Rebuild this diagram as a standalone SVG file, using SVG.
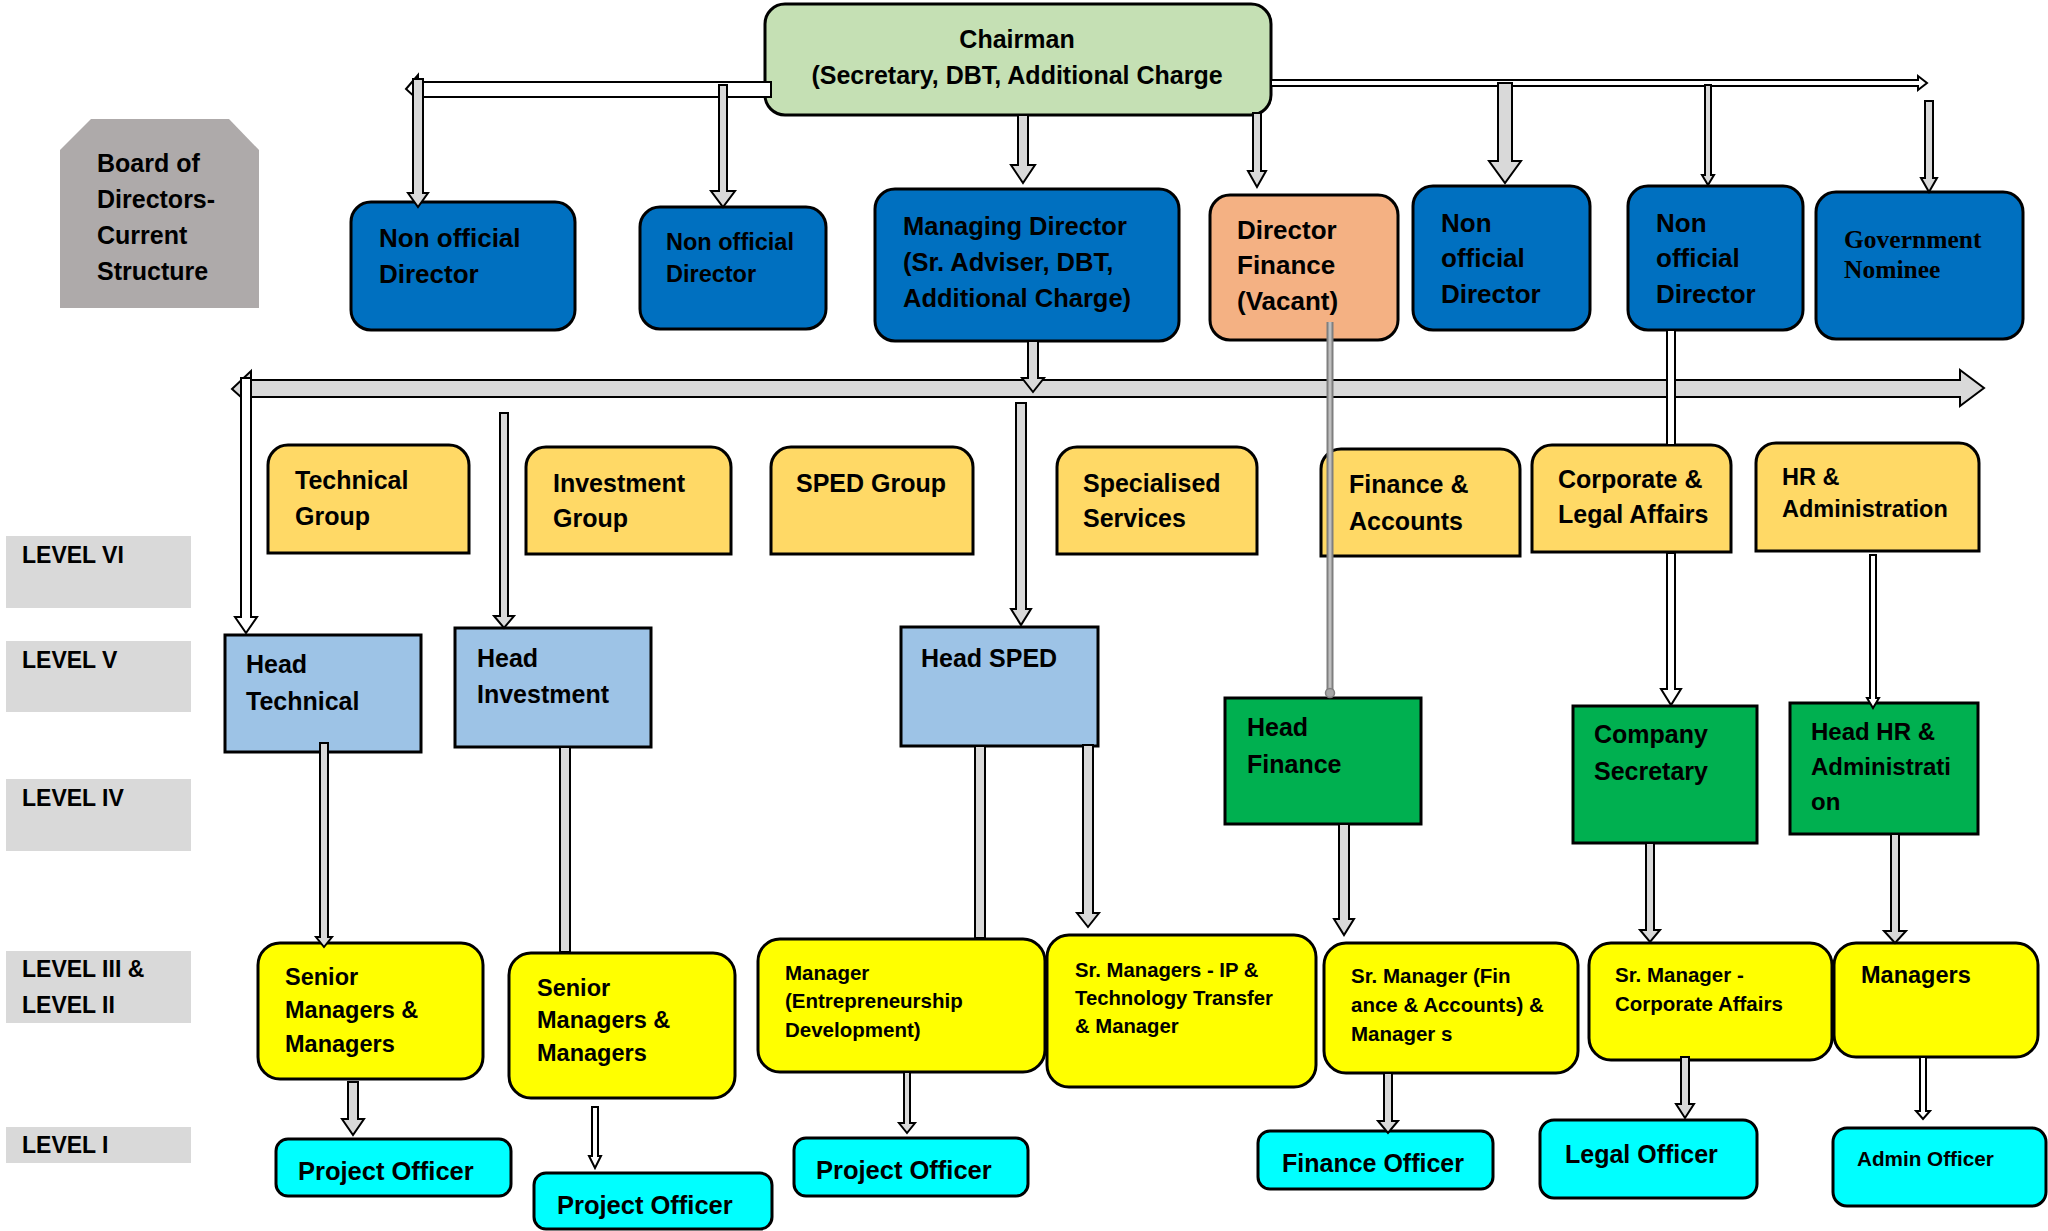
<svg xmlns="http://www.w3.org/2000/svg" width="2048" height="1231" viewBox="0 0 2048 1231">
<style>
text{font-family:"Liberation Sans",Arial,sans-serif;font-weight:bold;fill:#000}
.bx{stroke:#000;stroke-width:3}
.green{fill:#C5E0B4}.blue{fill:#0070C0}.orange{fill:#F4B183}.gold{fill:#FFD966}
.lblue{fill:#9DC3E6}.dgreen{fill:#00B050}.yel{fill:#FFFF00}.cyan{fill:#00FFFF}
.lvl{fill:#D9D9D9}
.ar{fill:#D9D9D9;stroke:#000;stroke-width:2;stroke-linejoin:miter}
.aw{fill:#FFFFFF;stroke:#000;stroke-width:2}
</style>
<rect width="2048" height="1231" fill="#fff"/>

<g id="board"><polygon points="60,150 91,119 229,119 259,150 259,308 60,308" fill="#AEAAAA"/>
<text font-size="25" x="97" y="172">Board of</text><text font-size="25" x="97" y="208">Directors-</text><text font-size="25" x="97" y="244">Current</text><text font-size="25" x="97" y="280">Structure</text></g>

<g id="levels" font-size="23">
<rect class="lvl" x="6" y="536" width="185" height="72"/><text font-size="23" x="22" y="563">LEVEL VI</text>
<rect class="lvl" x="6" y="641" width="185" height="71"/><text font-size="23" x="22" y="668">LEVEL V</text>
<rect class="lvl" x="6" y="779" width="185" height="72"/><text font-size="23" x="22" y="806">LEVEL IV</text>
<rect class="lvl" x="6" y="951" width="185" height="72"/><text font-size="23" x="22" y="977">LEVEL III &amp;</text><text font-size="23" x="22" y="1013">LEVEL II</text>
<rect class="lvl" x="6" y="1127" width="185" height="36"/><text font-size="23" x="22" y="1153">LEVEL I</text>
</g>

<g id="chairman"><rect class="bx green" x="765" y="4" width="506" height="111" rx="20"/>
<text font-size="25" x="1017" y="48" text-anchor="middle">Chairman</text><text font-size="25" x="1017" y="84" text-anchor="middle">(Secretary, DBT, Additional Charge</text></g>

<g id="nod1"><rect class="bx blue" x="351" y="202" width="224" height="128" rx="20"/><text font-size="26" x="379" y="247">Non official</text><text font-size="26" x="379" y="283">Director</text></g>
<g id="nod2"><rect class="bx blue" x="640" y="207" width="186" height="122" rx="20"/><text font-size="23.5" x="666" y="250">Non official</text><text font-size="23.5" x="666" y="282">Director</text></g>
<g id="md"><rect class="bx blue" x="875" y="189" width="304" height="152" rx="20"/><text font-size="25.5" x="903" y="235">Managing Director</text><text font-size="25.5" x="903" y="271">(Sr. Adviser, DBT,</text><text font-size="25.5" x="903" y="307">Additional Charge)</text></g>
<g id="df"><rect class="bx orange" x="1210" y="195" width="188" height="145" rx="20"/><text font-size="26" x="1237" y="239">Director</text><text font-size="26" x="1237" y="274">Finance</text><text font-size="26" x="1237" y="310">(Vacant)</text></g>
<g id="nod3"><rect class="bx blue" x="1413" y="186" width="177" height="144" rx="20"/><text font-size="26" x="1441" y="232">Non</text><text font-size="26" x="1441" y="267">official</text><text font-size="26" x="1441" y="303">Director</text></g>
<g id="nod4"><rect class="bx blue" x="1628" y="186" width="175" height="144" rx="20"/><text font-size="26" x="1656" y="232">Non</text><text font-size="26" x="1656" y="267">official</text><text font-size="26" x="1656" y="303">Director</text></g>
<g id="gov"><rect class="bx blue" x="1816" y="192" width="207" height="147" rx="20"/><text font-size="25.5" x="1844" y="248" style="font-family:'Liberation Serif','Times New Roman',serif">Government</text><text font-size="25.5" x="1844" y="278" style="font-family:'Liberation Serif','Times New Roman',serif">Nominee</text></g>

<g id="grp-tech"><path class="bx gold" d="M268 553V465A20 20 0 0 1 288 445H449A20 20 0 0 1 469 465V553Z"/><text font-size="25" x="295" y="489">Technical</text><text font-size="25" x="295" y="525">Group</text></g>
<g id="grp-inv"><path class="bx gold" d="M526 554V467A20 20 0 0 1 546 447H711A20 20 0 0 1 731 467V554Z"/><text font-size="25" x="553" y="492">Investment</text><text font-size="25" x="553" y="527">Group</text></g>
<g id="grp-sped"><path class="bx gold" d="M771 554V467A20 20 0 0 1 791 447H953A20 20 0 0 1 973 467V554Z"/><text font-size="25" x="796" y="492">SPED Group</text></g>
<g id="grp-spec"><path class="bx gold" d="M1057 554V467A20 20 0 0 1 1077 447H1237A20 20 0 0 1 1257 467V554Z"/><text font-size="25" x="1083" y="492">Specialised</text><text font-size="25" x="1083" y="527">Services</text></g>
<g id="grp-fin"><path class="bx gold" d="M1321 556V469A20 20 0 0 1 1341 449H1500A20 20 0 0 1 1520 469V556Z"/><text font-size="25" x="1349" y="493">Finance &amp;</text><text font-size="25" x="1349" y="530">Accounts</text></g>
<g id="grp-corp"><path class="bx gold" d="M1532 552V465A20 20 0 0 1 1552 445H1711A20 20 0 0 1 1731 465V552Z"/><text font-size="25" x="1558" y="488">Corporate &amp;</text><text font-size="25" x="1558" y="523">Legal Affairs</text></g>
<g id="grp-hr"><path class="bx gold" d="M1756 551V463A20 20 0 0 1 1776 443H1959A20 20 0 0 1 1979 463V551Z"/><text font-size="23.5" x="1782" y="485">HR &amp;</text><text font-size="23.5" x="1782" y="517">Administration</text></g>

<g id="head-tech"><rect class="bx lblue" x="225" y="635" width="196" height="117"/><text font-size="25" x="246" y="673">Head</text><text font-size="25" x="246" y="710">Technical</text></g>
<g id="head-inv"><rect class="bx lblue" x="455" y="628" width="196" height="119"/><text font-size="25" x="477" y="667">Head</text><text font-size="25" x="477" y="703">Investment</text></g>
<g id="head-sped"><rect class="bx lblue" x="901" y="627" width="197" height="119"/><text font-size="25" x="921" y="667">Head SPED</text></g>
<g id="head-fin"><rect class="bx dgreen" x="1225" y="698" width="196" height="126"/><text font-size="25" x="1247" y="736">Head</text><text font-size="25" x="1247" y="773">Finance</text></g>
<g id="co-sec"><rect class="bx dgreen" x="1573" y="706" width="184" height="137"/><text font-size="25" x="1594" y="743">Company</text><text font-size="25" x="1594" y="780">Secretary</text></g>
<g id="head-hr"><rect class="bx dgreen" x="1790" y="703" width="188" height="131"/><text font-size="24" x="1811" y="740">Head HR &amp;</text><text font-size="24" x="1811" y="775">Administrati</text><text font-size="24" x="1811" y="810">on</text></g>

<g id="sm1"><rect class="bx yel" x="258" y="943" width="225" height="136" rx="22"/><text font-size="23.5" x="285" y="985">Senior</text><text font-size="23.5" x="285" y="1018">Managers &amp;</text><text font-size="23.5" x="285" y="1052">Managers</text></g>
<g id="sm2"><rect class="bx yel" x="509" y="953" width="226" height="145" rx="22"/><text font-size="23.5" x="537" y="996">Senior</text><text font-size="23.5" x="537" y="1028">Managers &amp;</text><text font-size="23.5" x="537" y="1061">Managers</text></g>
<g id="mgr-ed"><rect class="bx yel" x="758" y="939" width="287" height="133" rx="22"/><text font-size="20.5" x="785" y="980">Manager</text><text font-size="20.5" x="785" y="1008">(Entrepreneurship</text><text font-size="20.5" x="785" y="1037">Development)</text></g>
<g id="sm-ip"><rect class="bx yel" x="1047" y="935" width="269" height="152" rx="22"/><text font-size="20.3" x="1075" y="977">Sr. Managers - IP &amp;</text><text font-size="20.3" x="1075" y="1005">Technology Transfer</text><text font-size="20.3" x="1075" y="1033">&amp; Manager</text></g>
<g id="sm-fin"><rect class="bx yel" x="1324" y="943" width="254" height="130" rx="22"/><text font-size="20.5" x="1351" y="983">Sr. Manager (Fin</text><text font-size="20.5" x="1351" y="1012">ance &amp; Accounts) &amp;</text><text font-size="20.5" x="1351" y="1041">Manager s</text></g>
<g id="sm-corp"><rect class="bx yel" x="1589" y="943" width="243" height="117" rx="22"/><text font-size="20.5" x="1615" y="982">Sr. Manager -</text><text font-size="20.5" x="1615" y="1011">Corporate Affairs</text></g>
<g id="managers"><rect class="bx yel" x="1834" y="943" width="204" height="114" rx="22"/><text font-size="23.5" x="1861" y="983">Managers</text></g>

<g id="po1"><rect class="bx cyan" x="276" y="1139" width="235" height="57" rx="12"/><text font-size="25.5" x="298" y="1180">Project Officer</text></g>
<g id="po2"><rect class="bx cyan" x="534" y="1173" width="238" height="56" rx="12"/><text font-size="25.5" x="557" y="1214">Project Officer</text></g>
<g id="po3"><rect class="bx cyan" x="794" y="1138" width="234" height="58" rx="12"/><text font-size="25.5" x="816" y="1179">Project Officer</text></g>
<g id="fo"><rect class="bx cyan" x="1258" y="1131" width="235" height="58" rx="12"/><text font-size="25" x="1282" y="1172">Finance Officer</text></g>
<g id="lo"><rect class="bx cyan" x="1540" y="1120" width="217" height="78" rx="14"/><text font-size="25" x="1565" y="1163">Legal Officer</text></g>
<g id="ao"><rect class="bx cyan" x="1833" y="1128" width="213" height="78" rx="14"/><text font-size="20.7" x="1857" y="1166">Admin Officer</text></g>

<g id="connectors">
<polygon class="aw" points="771,82 418,82 418,75 406,89 418,100 418,97 771,97"/>
<polygon class="aw" points="1271,80 1918,80 1918,76 1927,83 1918,90 1918,86 1271,86"/>
<polygon class="ar" points="413,79 423,79 423,193 428,193 418,207 408,193 413,193"/>
<polygon class="ar" points="719,85 727,85 727,191 735,191 723,207 711,191 719,191"/>
<polygon class="ar" points="1018,115 1028,115 1028,165 1035,165 1023,183 1011,165 1018,165"/>
<polygon class="ar" points="1253,113 1261,113 1261,171 1266,171 1257,187 1248,171 1253,171"/>
<polygon class="ar" points="1498,83 1512,83 1512,161 1521,161 1505,183 1489,161 1498,161"/>
<polygon class="ar" points="1705,85 1711,85 1711,175 1714,175 1708,185 1702,175 1705,175"/>
<polygon class="ar" points="1925,101 1933,101 1933,178 1937,178 1929,192 1921,178 1925,178"/>
<polygon class="ar" stroke-width="2.5" points="251,380 1960,380 1960,370 1984,388 1960,406 1960,397 251,397 251,406 232,389 251,371"/>
<polygon class="ar" points="1028,341 1038,341 1038,378 1044,378 1033,392 1022,378 1028,378"/>
<polygon class="aw" points="241,378 251,378 251,617 257,617 246,633 235,617 241,617"/>
<polygon class="ar" points="500,413 508,413 508,616 514,616 504,628 494,616 500,616"/>
<polygon class="ar" points="1016,403 1026,403 1026,609 1031,609 1021,625 1011,609 1016,609"/>
<line x1="1330" y1="322" x2="1330" y2="692" stroke="#7F7F7F" stroke-width="7"/>
<line x1="1330" y1="322" x2="1330" y2="692" stroke="#BFBFBF" stroke-width="3"/>
<circle cx="1330" cy="693" r="4.5" fill="#A6A6A6" stroke="#7F7F7F" stroke-width="1.5"/>
<polygon class="aw" points="1667,330 1675,330 1675,445 1667,445"/>
<polygon class="aw" points="1667,553 1675,553 1675,689 1681,689 1671,705 1661,689 1667,689"/>
<polygon class="aw" points="1870,555 1876,555 1876,698 1879,698 1873,708 1867,698 1870,698"/>
<polygon class="ar" points="320,743 328,743 328,937 332,937 324,947 316,937 320,937"/>
<polygon class="ar" points="560,747 570,747 570,952 560,952"/>
<polygon class="ar" points="975,746 985,746 985,938 975,938"/>
<polygon class="ar" points="1083,745 1093,745 1093,913 1099,913 1088,927 1077,913 1083,913"/>
<polygon class="ar" points="1339,824 1349,824 1349,919 1354,919 1344,935 1334,919 1339,919"/>
<polygon class="ar" points="1646,843 1654,843 1654,930 1660,930 1650,942 1640,930 1646,930"/>
<polygon class="ar" points="1891,834 1899,834 1899,931 1906,931 1895,943 1884,931 1891,931"/>
<polygon class="ar" points="348,1082 358,1082 358,1119 364,1119 353,1135 342,1119 348,1119"/>
<polygon class="aw" points="592,1107 598,1107 598,1156 601,1156 595,1168 589,1156 592,1156"/>
<polygon class="ar" points="904,1072 910,1072 910,1123 915,1123 907,1133 899,1123 904,1123"/>
<polygon class="ar" points="1384,1073 1392,1073 1392,1121 1398,1121 1388,1133 1378,1121 1384,1121"/>
<polygon class="ar" points="1681,1057 1689,1057 1689,1104 1694,1104 1685,1118 1676,1104 1681,1104"/>
<polygon class="aw" points="1920,1057 1926,1057 1926,1111 1930,1111 1923,1119 1916,1111 1920,1111"/>
</g>
</svg>
